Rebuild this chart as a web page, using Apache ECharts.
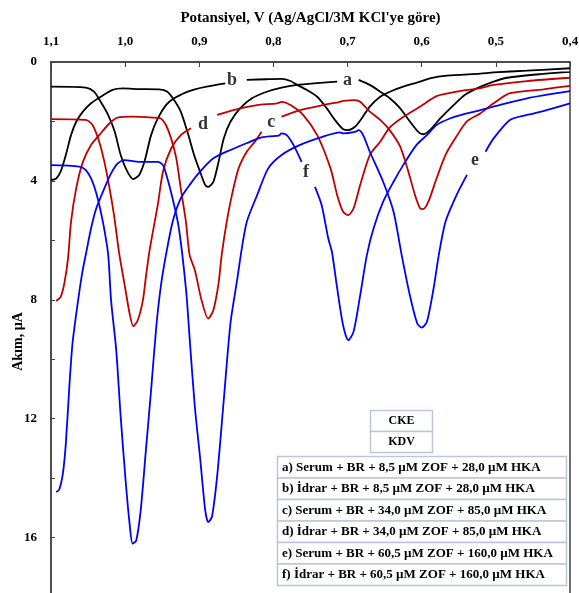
<!DOCTYPE html>
<html><head><meta charset="utf-8">
<script src="https://cdn.jsdelivr.net/npm/echarts@6/dist/echarts.min.js"></script>
<style>html,body{margin:0;padding:0;background:#fff}#c{width:579px;height:593px}</style>
</head><body><div id="c"></div>
<script>
// x = potential (V), y = current (µA); null breaks the line where a letter label sits
const curveA = [[1.100,3.97],[1.093,3.92],[1.087,3.69],[1.080,3.13],[1.073,2.46],[1.066,2.01],[1.057,1.67],[1.046,1.39],[1.033,1.17],[1.017,0.94],[1.003,0.89],[0.981,0.91],[0.954,0.92],[0.943,1.0],[0.934,1.28],[0.925,1.67],[0.916,2.35],[0.907,3.13],[0.899,3.69],[0.892,4.14],[0.888,4.2],[0.881,4.03],[0.874,3.36],[0.867,2.57],[0.858,2.01],[0.845,1.56],[0.829,1.22],[0.809,1.0],[0.789,0.86],[0.768,0.77],[0.741,0.71],[0.714,0.66],[0.70,null],[0.685,0.6],[0.670,0.77],[0.656,1.0],[0.643,1.22],[0.629,1.56],[0.616,2.0],[0.604,2.37],[0.598,2.43],[0.589,2.29],[0.575,1.9],[0.557,1.45],[0.542,1.11],[0.525,0.88],[0.503,0.66],[0.485,0.53],[0.436,0.4],[0.4,0.33]];
const curveB = [[1.100,0.83],[1.053,0.86],[1.042,1.0],[1.033,1.34],[1.023,1.78],[1.014,2.35],[1.006,3.13],[0.997,3.69],[0.989,3.94],[0.981,3.8],[0.974,3.36],[0.965,2.46],[0.956,1.9],[0.945,1.45],[0.934,1.22],[0.918,1.02],[0.906,0.92],[0.890,0.83],[0.865,0.72],[0.85,null],[0.836,0.6],[0.809,0.58],[0.789,0.57],[0.777,0.64],[0.768,0.77],[0.755,0.94],[0.741,1.17],[0.728,1.56],[0.717,1.95],[0.706,2.26],[0.699,2.29],[0.690,2.18],[0.681,1.9],[0.670,1.5],[0.656,1.17],[0.643,1.0],[0.625,0.83],[0.602,0.66],[0.589,0.55],[0.566,0.46],[0.521,0.39],[0.503,0.35],[0.458,0.29],[0.4,0.21]];
const curveC = [[1.093,8.04],[1.087,7.9],[1.082,7.45],[1.077,6.6],[1.073,5.38],[1.066,4.25],[1.057,3.36],[1.046,2.79],[1.035,2.46],[1.021,2.06],[1.010,1.87],[0.990,1.84],[0.963,1.87],[0.952,1.9],[0.945,2.12],[0.938,2.57],[0.931,3.24],[0.925,4.25],[0.918,5.38],[0.913,6.5],[0.906,7.0],[0.897,8.01],[0.888,8.63],[0.881,8.35],[0.874,7.45],[0.870,6.53],[0.863,5.38],[0.856,4.48],[0.847,3.58],[0.836,3.02],[0.825,2.68],[0.816,2.35],[0.80,null],[0.789,1.84],[0.764,1.62],[0.733,1.45],[0.710,1.34],[0.706,1.31],[0.690,1.28],[0.683,1.34],[0.670,1.67],[0.656,1.95],[0.643,2.3],[0.629,2.85],[0.618,3.69],[0.609,4.48],[0.602,4.93],[0.598,4.95],[0.591,4.7],[0.580,3.92],[0.568,3.13],[0.553,2.5],[0.539,2.0],[0.521,1.73],[0.503,1.39],[0.481,1.05],[0.436,0.92],[0.4,0.8]];
const curveD = [[1.100,1.92],[1.053,1.95],[1.044,2.12],[1.035,2.68],[1.028,3.36],[1.021,4.25],[1.015,5.15],[1.008,6.45],[1.001,7.45],[0.994,8.46],[0.989,8.89],[0.983,8.69],[0.976,8.01],[0.972,7.23],[0.967,6.33],[0.956,4.81],[0.949,3.69],[0.938,2.91],[0.925,2.46],[0.911,2.23],[0.89,null],[0.876,1.78],[0.845,1.56],[0.822,1.45],[0.795,1.39],[0.789,1.34],[0.777,1.45],[0.760,1.78],[0.741,2.46],[0.723,3.58],[0.714,4.48],[0.706,5.04],[0.699,5.15],[0.692,4.93],[0.683,4.14],[0.670,3.13],[0.656,2.68],[0.643,2.2],[0.625,1.85],[0.602,1.5],[0.580,1.15],[0.553,1.0],[0.521,0.88],[0.503,0.77],[0.458,0.64],[0.4,0.53]];
const curveE = [[1.093,14.47],[1.089,14.39],[1.084,13.85],[1.080,12.84],[1.075,10.82],[1.071,9.47],[1.064,8.12],[1.058,7.11],[1.053,6.47],[1.046,5.6],[1.039,4.93],[1.030,4.37],[1.019,3.75],[1.010,3.41],[1.001,3.3],[0.981,3.36],[0.956,3.36],[0.949,3.47],[0.943,3.92],[0.936,4.59],[0.929,5.38],[0.925,6.05],[0.921,6.9],[0.917,7.9],[0.913,9.3],[0.906,11.6],[0.899,13.29],[0.892,15.08],[0.888,15.48],[0.883,15.31],[0.876,13.96],[0.867,11.38],[0.858,8.8],[0.849,7.34],[0.843,6.33],[0.836,5.38],[0.822,4.48],[0.807,3.58],[0.789,3.13],[0.764,2.79],[0.733,2.51],[0.710,2.37],[0.706,2.4],[0.690,2.35],[0.685,2.29],[0.679,2.46],[0.670,3.02],[0.652,4.03],[0.638,5.04],[0.627,6.5],[0.616,7.85],[0.606,8.8],[0.600,8.94],[0.593,8.74],[0.584,7.62],[0.577,6.5],[0.568,5.38],[0.553,4.48],[0.539,3.8],[0.525,null],[0.514,3.02],[0.503,2.57],[0.481,1.95],[0.458,1.78],[0.436,1.65],[0.4,1.39]];
const curveF = [[1.100,3.47],[1.062,3.52],[1.053,3.64],[1.044,4.03],[1.037,4.59],[1.030,5.38],[1.023,6.45],[1.019,8.01],[1.012,9.7],[1.006,11.94],[0.999,14.19],[0.994,15.53],[0.990,16.2],[0.985,16.1],[0.979,15.08],[0.972,13.06],[0.965,11.04],[0.958,8.91],[0.952,7.57],[0.945,6.5],[0.936,5.38],[0.925,4.59],[0.912,4.1],[0.899,3.69],[0.881,3.24],[0.858,2.96],[0.831,2.68],[0.818,2.55],[0.804,2.5],[0.793,2.48],[0.789,2.4],[0.782,2.46],[0.773,2.79],[0.762,3.36],[0.755,null],[0.744,4.2],[0.735,4.81],[0.726,5.94],[0.721,6.4],[0.714,7.62],[0.706,8.86],[0.699,9.36],[0.692,9.08],[0.683,7.85],[0.674,6.5],[0.665,5.6],[0.652,4.7],[0.638,4.03],[0.625,3.47],[0.607,2.79],[0.593,2.46],[0.580,2.12],[0.562,1.9],[0.544,1.76],[0.521,1.62],[0.503,1.5],[0.458,1.22],[0.4,0.98]];

const curveNames = ['a','b','c','d','e','f'];
const curveColors = ['#000000','#000000','#c00000','#c00000','#0000ff','#0000ff'];
const curveData = [curveA, curveB, curveC, curveD, curveE, curveF];
// letter label positions (V, µA)
const letterLabels = [[0.700,0.61,'a'],[0.856,0.61,'b'],[0.803,2.02,'c'],[0.895,2.09,'d'],[0.528,3.30,'e'],[0.756,3.70,'f']];

const xTitle = "Potansiyel, V (Ag/AgCl/3M KCl'ye göre)";
const yTitle = "Akım, µA";
const headRows = ['CKE','KDV'];
const tableRows = [
 'a) Serum + BR + 8,5 µM ZOF + 28,0 µM HKA',
 'b) İdrar + BR + 8,5 µM ZOF + 28,0 µM HKA',
 'c) Serum + BR + 34,0 µM ZOF + 85,0 µM HKA',
 'd) İdrar + BR + 34,0 µM ZOF + 85,0 µM HKA',
 'e) Serum + BR + 60,5 µM ZOF + 160,0 µM HKA',
 'f) İdrar + BR + 60,5 µM ZOF + 160,0 µM HKA'
];

const FONT = "'Liberation Serif','Times New Roman',serif";
const chart = echarts.init(document.getElementById('c'));
const series = curveData.map((d,i)=>({
  type:'line', name:curveNames[i], data:d, showSymbol:false, smooth:0.25,
  connectNulls:false, lineStyle:{color:curveColors[i], width:1.8}, itemStyle:{color:curveColors[i]},
  z:2, silent:true, animation:false
}));
series.push({
  type:'scatter', data:letterLabels.map(l=>({value:[l[0],l[1]], name:l[2]})), symbolSize:0,
  label:{show:true, position:'inside', formatter:p=>p.name, fontFamily:FONT, fontWeight:'bold', fontSize:18, color:'#000'},
  z:5, silent:true, animation:false
});

const graphics = [];
headRows.forEach((t,i)=>{
  graphics.push({type:'rect', shape:{x:370.5,y:410.5+i*21,width:62,height:21}, style:{fill:'#fff',stroke:'#bcc6da',lineWidth:1.5}, z:10});
  graphics.push({type:'text', x:401.5, y:421+i*21, style:{text:t, fill:'#000', font:"bold 12px "+FONT, textAlign:'center', textVerticalAlign:'middle'}, z:11});
});
tableRows.forEach((t,i)=>{
  graphics.push({type:'rect', shape:{x:277.5,y:456.5+i*21.5,width:289,height:21.5}, style:{fill:'#fff',stroke:'#bcc6da',lineWidth:1.5}, z:10});
  graphics.push({type:'text', x:282, y:467.5+i*21.5, style:{text:t, fill:'#000', font:"bold 13px "+FONT, textAlign:'left', textVerticalAlign:'middle'}, z:11});
});

chart.setOption({
  animation:false,
  backgroundColor:'#fff',
  grid:{left:51,right:9,top:62,bottom:-4,containLabel:false,outerBoundsMode:'none',show:true,borderColor:'#404040',borderWidth:1.5,backgroundColor:'transparent'},
  xAxis:{type:'value', position:'top', inverse:true, min:0.4, max:1.1, interval:0.1,
    name:xTitle, nameLocation:'middle', nameGap:36, nameMoveOverlap:false,
    nameTextStyle:{fontFamily:FONT, fontWeight:'bold', fontSize:15, color:'#000'},
    axisLine:{lineStyle:{color:'#404040', width:1.5}},
    axisTick:{inside:true, length:5, lineStyle:{color:'#404040'}},
    axisLabel:{formatter:v=>v.toFixed(1).replace('.',','), fontFamily:FONT, fontWeight:'bold', fontSize:13, color:'#000', margin:14},
    splitLine:{show:false}},
  yAxis:{type:'value', inverse:true, min:0, max:18, interval:2,
    name:yTitle, nameLocation:'middle', nameGap:26, nameRotate:90, nameMoveOverlap:false,
    nameTextStyle:{fontFamily:FONT, fontWeight:'bold', fontSize:14, color:'#000', padding:[0,24,0,0]},
    axisLine:{lineStyle:{color:'#404040', width:1.5}},
    axisTick:{inside:true, length:4, lineStyle:{color:'#404040'}},
    axisLabel:{formatter:v=>(v%4===0 && v<18)?String(v):'', fontFamily:FONT, fontWeight:'bold', fontSize:13, color:'#000', margin:14},
    splitLine:{show:false}},
  series:series,
  graphic:graphics
});
</script></body></html>
